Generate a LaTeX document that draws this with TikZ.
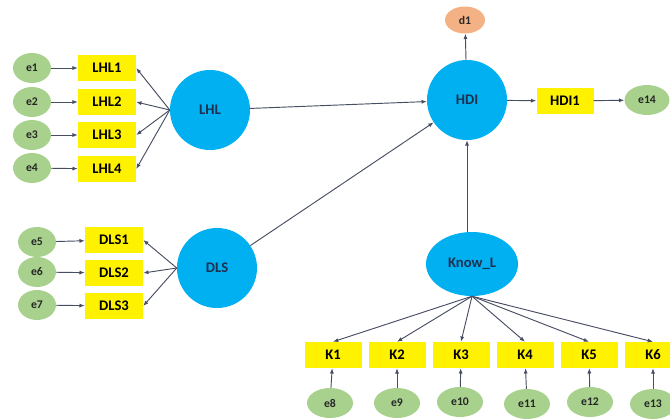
\documentclass[tikz,border=0pt]{standalone}
\usepackage{fontspec}
\setmainfont{Carlito}
\usetikzlibrary{arrows.meta,shapes.geometric}

\definecolor{latentblue}{HTML}{00B0F0}
\definecolor{errgreen}{HTML}{A9D18E}
\definecolor{distorange}{HTML}{F4B183}
\definecolor{pathgray}{HTML}{474E62}
\definecolor{labelnavy}{HTML}{1F3050}

\begin{document}
\begin{tikzpicture}[x=0.03cm, y=-0.03cm,
    latent/.style={circle, fill=latentblue, minimum size=2.4cm, inner sep=0pt,
                   text=labelnavy, font=\fontsize{12.5}{14}\selectfont\bfseries},
    indicator/.style={rectangle, fill=yellow, minimum width=1.74cm, minimum height=0.8cm,
                      inner sep=0pt, font=\fontsize{12.5}{14}\selectfont\bfseries},
    errterm/.style={ellipse, fill=errgreen, minimum width=1.14cm, minimum height=0.9cm,
                    inner sep=0pt, text=black!85, font=\fontsize{10}{12}\selectfont\bfseries},
    path/.style={draw=pathgray, line width=0.8pt, -{Latex[length=4.5pt,width=3.5pt]}}]
  \useasboundingbox (0,0) rectangle (670,418);

  \node[latent] (lhl) at (210,110) {LHL};
  \node[latent] (dls) at (217,268) {DLS};
  \node[latent] (hdi) at (467,100) {HDI};
  \node[latent, ellipse, minimum width=2.76cm, minimum height=1.92cm] (knowl) at (472,264) {Know\_L};

  \node[indicator] (lhl1) at (107,68) {LHL1};
  \node[indicator] (lhl2) at (107,102) {LHL2};
  \node[indicator] (lhl3) at (107,135) {LHL3};
  \node[indicator] (lhl4) at (107,169) {LHL4};
  \node[errterm] (e1) at (32,68) {e1};
  \node[errterm] (e2) at (32,102) {e2};
  \node[errterm] (e3) at (32,135) {e3};
  \node[errterm] (e4) at (32,168) {e4};

  \node[indicator] (dls1) at (114,240) {DLS1};
  \node[indicator] (dls2) at (114,273) {DLS2};
  \node[indicator] (dls3) at (114,306) {DLS3};
  \node[errterm] (e5) at (37,242) {e5};
  \node[errterm] (e6) at (37,272) {e6};
  \node[errterm] (e7) at (37,305) {e7};

  \node[indicator, minimum width=1.71cm, minimum height=0.78cm] (hdi1) at (565,101) {HDI1};
  \node[errterm, minimum width=1.35cm] (e14) at (647,100) {e14};
  \node[errterm, fill=distorange, minimum width=1.2cm, minimum height=0.81cm] (d1) at (465,20) {d1};

  \node[indicator, minimum width=1.71cm, minimum height=0.78cm] (k1) at (333,355) {K1};
  \node[indicator, minimum width=1.71cm, minimum height=0.78cm] (k2) at (397,355) {K2};
  \node[indicator, minimum width=1.71cm, minimum height=0.78cm] (k3) at (461,355) {K3};
  \node[indicator, minimum width=1.71cm, minimum height=0.78cm] (k4) at (525,355) {K4};
  \node[indicator, minimum width=1.71cm, minimum height=0.78cm] (k5) at (589,355) {K5};
  \node[indicator, minimum width=1.71cm, minimum height=0.78cm] (k6) at (653,355) {K6};
  \node[errterm, minimum width=1.38cm] (e8) at (330,403) {e8};
  \node[errterm, minimum width=1.38cm] (e9) at (397,403) {e9};
  \node[errterm, minimum width=1.38cm] (e10) at (460,402) {e10};
  \node[errterm, minimum width=1.38cm] (e11) at (527,404) {e11};
  \node[errterm, minimum width=1.38cm] (e12) at (590,402) {e12};
  \node[errterm, minimum width=1.38cm] (e13) at (653,404) {e13};

  \draw[path] (e1) -- (lhl1);
  \draw[path] (e2) -- (lhl2);
  \draw[path] (e3) -- (lhl3);
  \draw[path] (e4) -- (lhl4);
  \draw[path] (lhl.west) -- (lhl1.east);
  \draw[path] (lhl.west) -- (lhl2.east);
  \draw[path] (lhl.west) -- (lhl3.east);
  \draw[path] (lhl.west) -- (lhl4.east);

  \draw[path] (e5) -- (dls1);
  \draw[path] (e6) -- (dls2);
  \draw[path] (e7) -- (dls3);
  \draw[path] (dls.west) -- (dls1.east);
  \draw[path] (dls.west) -- (dls2.east);
  \draw[path] (dls.west) -- (dls3.east);

  \draw[path] (lhl) -- (hdi);
  \draw[path] (dls) -- (hdi);
  \draw[path] (hdi.south |- knowl.north) -- (hdi.south);
  \draw[path] (hdi) -- (d1);
  \draw[path] (hdi) -- (hdi1);
  \draw[path] (hdi1) -- (e14);

  \draw[path] (knowl.south) -- (k1.north);
  \draw[path] (knowl.south) -- (k2.north);
  \draw[path] (knowl.south) -- (k3.north);
  \draw[path] (knowl.south) -- (k4.north);
  \draw[path] (knowl.south) -- (k5.north);
  \draw[path] (knowl.south) -- (k6.north);
  \draw[path] (e8) -- (k1);
  \draw[path] (e9) -- (k2);
  \draw[path] (e10) -- (k3);
  \draw[path] (e11) -- (k4);
  \draw[path] (e12) -- (k5);
  \draw[path] (e13) -- (k6);
\end{tikzpicture}
\end{document}
